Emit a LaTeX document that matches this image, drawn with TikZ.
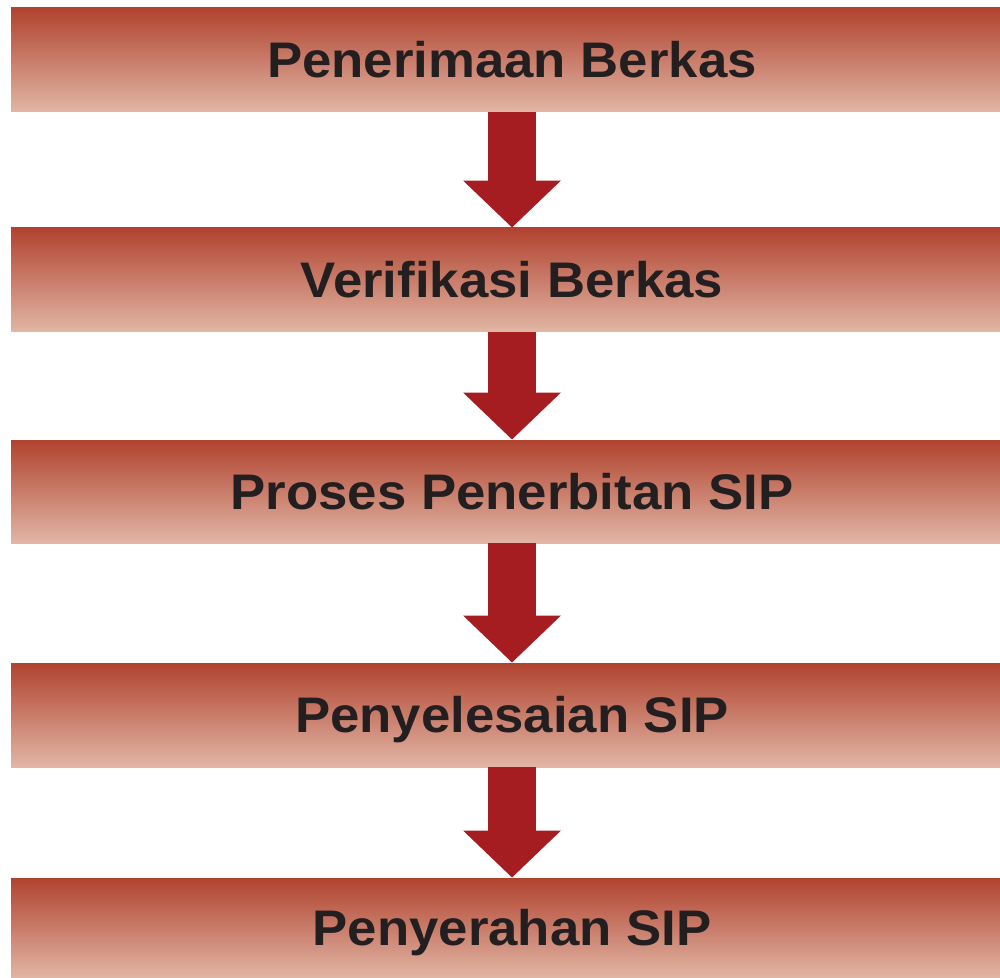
\documentclass[tikz,border=0pt]{standalone}
\usepackage{fontspec}
\setmainfont{Liberation Sans}[FakeStretch=1.055]
\usetikzlibrary{arrows.meta}
\definecolor{bartop}{HTML}{B0432F}
\definecolor{barbot}{HTML}{E2B6A5}
\definecolor{arrowred}{HTML}{A51D21}
\definecolor{textdark}{HTML}{231F20}

\begin{document}
\begin{tikzpicture}[x=0.5pt,y=-0.5pt]
\tikzstyle{every node}+=[inner sep=0pt]
\tikzstyle{stage}=[rectangle, minimum width=501pt, top color=bartop, bottom color=barbot, text=textdark, font=\bfseries\fontsize{25}{30}\selectfont, text height=17.9pt, text depth=0pt]
\tikzstyle{down}=[draw=arrowred, fill=arrowred, line width=24pt, -{Triangle[width=47.5pt,length=23.5pt]}]
\useasboundingbox (0,0) rectangle (1000,978);
\node[stage, minimum height=52pt] (s1) at (512,60) {Penerimaan Berkas};
\node[stage, minimum height=52pt] (s2) at (512,280) {Verifikasi Berkas};
\node[stage, minimum height=51.5pt] (s3) at (512,491.5) {Proses Penerbitan SIP};
\node[stage, minimum height=52pt] (s4) at (512,715) {Penyelesaian SIP};
\node[stage, minimum height=50pt] (s5) at (512,928) {Penyerahan SIP};
\draw[down] (s1.south) -- (s2.north);
\draw[down] (s2.south) -- (s3.north);
\draw[down] (s3.south) -- (s4.north);
\draw[down] (s4.south) -- (s5.north);
\end{tikzpicture}
\end{document}
